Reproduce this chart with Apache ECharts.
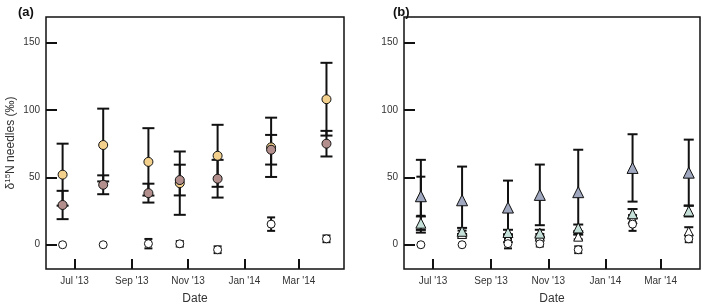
<!DOCTYPE html>
<html>
<head>
<meta charset="utf-8">
<script src="https://cdn.jsdelivr.net/npm/echarts@6/dist/echarts.min.js"></script>
<style>
  html, body { margin: 0; padding: 0; background: #fff; }
  #chart { width: 709px; height: 304px; }
</style>
</head>
<body>
<div id="chart"></div>
<script>
// sampling dates
const dates = ['2013-06-18', '2013-08-01', '2013-09-19', '2013-10-23', '2013-12-03', '2014-01-30', '2014-03-31'];
const yTicks = [0, 50, 100, 150];
const monthNames = ['Jan', 'Feb', 'Mar', 'Apr', 'May', 'Jun', 'Jul', 'Aug', 'Sep', 'Oct', 'Nov', 'Dec'];

// panel (a)
const yellowMean = [52, 74, 61.5, 45.7, 66, 72.3, 108];
const yellowErr = [23, 27, 25, 23.5, 23, 22, 27];
const brownMean = [29.5, 44.5, 38.3, 48, 49, 70.5, 75];
const brownErr = [10.5, 7, 7, 11.4, 14, 11, 9.5];
const ctrlMean = [0, 0, 0.8, 0.7, -3.7, 15.3, 4.4];
const ctrlErr = [0, 0, 3.5, 2, 2.5, 5, 2.5];

// panel (b)
const darkMean = [36, 33, 27.6, 37, 39, 57, 53.5];
const darkErr = [27, 25, 20, 22.5, 31.5, 25, 24.5];
const whiteTriMean = [36, 8, 5, 6, 6, 19, 10];
const whiteTriErr = [14.5, 2.5, 3, 2, 2, 3, 3];
const lightMean = [16, 10, 9.1, 8.6, 12.5, 23, 25];
const lightErr = [5, 2.5, 2, 2.5, 2.5, 3.5, 4];

const DAY = 86400000;
const chart = echarts.init(document.getElementById('chart'));

const points = (mean) => dates.map((d, i) => [d, mean[i]]);
const bars = (mean, err) => dates.map((d, i) => [d, mean[i] - err[i], mean[i] + err[i]]);

// vertical error bar with caps
const errorSeries = (idx, mean, err, capW) => ({
  type: 'custom',
  xAxisIndex: idx,
  yAxisIndex: idx,
  z: 1,
  silent: true,
  data: bars(mean, err),
  renderItem: (params, api) => {
    const lo = api.coord([api.value(0), api.value(1)]);
    const hi = api.coord([api.value(0), api.value(2)]);
    if (Math.abs(hi[1] - lo[1]) < 1) return null;
    const style = { stroke: '#111', lineWidth: 2 };
    const h = capW / 2;
    return {
      type: 'group',
      children: [
        { type: 'line', shape: { x1: lo[0], y1: lo[1], x2: hi[0], y2: hi[1] }, style },
        { type: 'line', shape: { x1: lo[0] - h, y1: lo[1], x2: lo[0] + h, y2: lo[1] }, style },
        { type: 'line', shape: { x1: hi[0] - h, y1: hi[1], x2: hi[0] + h, y2: hi[1] }, style }
      ]
    };
  }
});

const markerSeries = (idx, mean, symbol, size, color) => ({
  type: 'scatter',
  xAxisIndex: idx,
  yAxisIndex: idx,
  z: 3,
  symbol: symbol,
  symbolSize: size,
  itemStyle: { color: color, borderColor: '#111', borderWidth: 1, opacity: 1 },
  data: points(mean)
});

const xAxisFor = (idx, min, max) => ({
  type: 'time',
  gridIndex: idx,
  min: min,
  max: max,
  minInterval: 61 * DAY,
  maxInterval: 61 * DAY,
  name: 'Date',
  nameLocation: 'middle',
  nameGap: 24,
  nameTextStyle: { fontFamily: 'Liberation Sans', fontSize: 12, color: '#333' },
  axisLine: { show: false, onZero: false },
  splitLine: { show: false },
  axisTick: { show: true, inside: true, length: 10, lineStyle: { color: '#111', width: 2 } },
  axisLabel: {
    margin: 7,
    fontFamily: 'Liberation Sans',
    fontSize: 10,
    color: '#333',
    formatter: (val) => {
      const d = new Date(val);
      return monthNames[d.getMonth()] + " '" + String(d.getFullYear()).slice(2);
    }
  }
});

const yAxisFor = (idx, withName) => ({
  type: 'value',
  gridIndex: idx,
  min: -18,
  max: 169,
  name: withName ? '{a|δ}{s|15}{a|N needles (‰)}' : '',
  nameLocation: 'middle',
  nameGap: 28,
  nameTextStyle: {
    rich: {
      a: { fontFamily: 'Liberation Sans', fontSize: 12, color: '#333' },
      s: { fontFamily: 'Liberation Sans', fontSize: 8, color: '#333', verticalAlign: 'top', padding: [0, 0, 6, 0] }
    }
  },
  axisLine: { show: false, onZero: false },
  splitLine: { show: false },
  axisTick: { show: true, inside: true, length: 11, customValues: yTicks, lineStyle: { color: '#111', width: 2 } },
  axisLabel: { customValues: yTicks, margin: 6, fontFamily: 'Liberation Sans', fontSize: 10, color: '#333' }
});

const option = {
  animation: false,
  title: [
    { text: '(a)', left: 13, top: 1, textStyle: { fontFamily: 'Liberation Sans', fontSize: 13, fontWeight: 'bold', color: '#111' } },
    { text: '(b)', left: 388, top: 1, textStyle: { fontFamily: 'Liberation Sans', fontSize: 13, fontWeight: 'bold', color: '#111' } }
  ],
  grid: [
    { left: 46, right: 365, top: 17, bottom: 35, outerBoundsMode: 'none', show: true, borderColor: '#111', borderWidth: 1.5, backgroundColor: 'transparent' },
    { left: 404, right: 9, top: 17, bottom: 35, outerBoundsMode: 'none', show: true, borderColor: '#111', borderWidth: 1.5, backgroundColor: 'transparent' }
  ],
  xAxis: [
    xAxisFor(0, '2013-05-31', '2014-04-19'),
    xAxisFor(1, '2013-05-31', '2014-04-12')
  ],
  yAxis: [yAxisFor(0, true), yAxisFor(1, false)],
  series: [
    errorSeries(0, yellowMean, yellowErr, 12),
    errorSeries(0, brownMean, brownErr, 12),
    errorSeries(0, ctrlMean, ctrlErr, 8),
    markerSeries(0, yellowMean, 'circle', 9, '#f3d08c'),
    markerSeries(0, brownMean, 'circle', 9, '#b28f8c'),
    markerSeries(0, ctrlMean, 'circle', 8, '#ffffff'),

    errorSeries(1, darkMean, darkErr, 10),
    errorSeries(1, whiteTriMean, whiteTriErr, 9),
    errorSeries(1, lightMean, lightErr, 10),
    errorSeries(1, ctrlMean, ctrlErr, 8),
    markerSeries(1, whiteTriMean, 'triangle', 9, '#ffffff'),
    markerSeries(1, darkMean, 'triangle', 11, '#a0a8c0'),
    markerSeries(1, lightMean, 'triangle', 10, '#c5e0d8'),
    markerSeries(1, ctrlMean, 'circle', 8, '#ffffff')
  ]
};

chart.setOption(option);
</script>
</body>
</html>
